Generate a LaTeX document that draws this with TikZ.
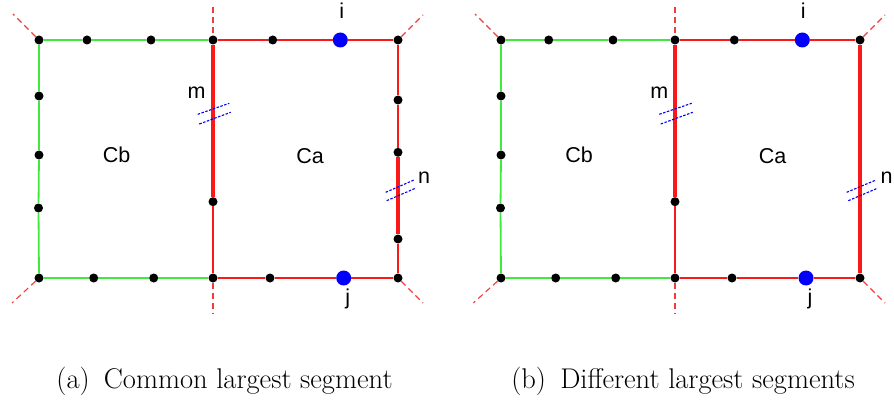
\documentclass[tikz,border=0pt]{standalone}
\usepackage{fontspec}
\usepackage{tikz}
\newfontfamily\lblfont{Liberation Sans}
\definecolor{edgegreen}{RGB}{64,232,64}
\definecolor{edgered}{RGB}{250,24,24}
\definecolor{extred}{RGB}{240,60,60}
\definecolor{vtxblue}{RGB}{0,0,250}
\tikzset{
  vtx/.style={circle, fill=black, inner sep=0pt, minimum size=9pt},
  ivtx/.style={circle, fill=vtxblue, inner sep=0pt, minimum size=15pt},
  gedge/.style={draw=edgegreen, line width=1.8pt},
  redge/.style={draw=edgered, line width=1.5pt},
  rbold/.style={draw=edgered, line width=3.3pt},
  ext/.style={draw=extred, line width=1.1pt, dash pattern=on 6pt off 4pt},
  hsh/.style={draw=vtxblue, line width=1.1pt, dash pattern=on 2.5pt off 1.5pt},
  lbl/.style={font=\lblfont\fontsize{21.5}{21.5}\selectfont, anchor=base, inner sep=0pt},
  subcap/.style={font=\fontsize{28.5}{32}\selectfont, anchor=base, inner sep=0pt},
}

\begin{document}
\begin{tikzpicture}[x=1pt, y=-1pt]
  \useasboundingbox (0,0) rectangle (894,401);

  \coordinate (a-up) at (213,7);
  \coordinate (a-dn) at (213,313);
  \coordinate (a-nw) at (13,14);
  \coordinate (a-ne) at (423,15);
  \coordinate (a-sw) at (12,303);
  \coordinate (a-se) at (423,303);

  \node[vtx] (a-t0) at (39,40) {};
  \node[vtx] (a-t1) at (87,40) {};
  \node[vtx] (a-t2) at (151,40) {};
  \node[vtx] (a-t3) at (213,40) {};
  \node[vtx] (a-t4) at (272.7,40) {};
  \node[ivtx] (a-i) at (340.3,40) {};
  \node[vtx] (a-t5) at (398,40) {};
  \node[vtx] (a-l1) at (39,96) {};
  \node[vtx] (a-l2) at (39,155) {};
  \node[vtx] (a-l3) at (38.5,208) {};
  \node[vtx] (a-b0) at (39,278) {};
  \node[vtx] (a-b1) at (93.7,278) {};
  \node[vtx] (a-b2) at (153.7,278) {};
  \node[vtx] (a-b3) at (213,278) {};
  \node[vtx] (a-b4) at (270,278) {};
  \node[ivtx] (a-j) at (343.7,278) {};
  \node[vtx] (a-b5) at (398,278) {};
  \node[vtx] (a-m1) at (213,201.7) {};
  \node[vtx] (a-r1) at (398,100) {};
  \node[vtx] (a-r2) at (398,152.3) {};
  \node[vtx] (a-r3) at (398,239) {};

  \draw[ext] (a-up) -- (a-t3);
  \draw[ext] (a-b3) -- (a-dn);
  \draw[ext] (a-t0) -- (a-nw);
  \draw[ext] (a-t5) -- (a-ne);
  \draw[ext] (a-b0) -- (a-sw);
  \draw[ext] (a-b5) -- (a-se);

  \draw[gedge] (a-t0) -- (a-t1) -- (a-t2) -- (a-t3);
  \draw[gedge] (a-t0) -- (a-l1) -- (a-l2) -- (a-l3) -- (a-b0);
  \draw[gedge] (a-b0) -- (a-b1) -- (a-b2) -- (a-b3);
  \draw[redge] (a-t3) -- (a-t4) -- (a-i) -- (a-t5);
  \draw[redge] (a-b3) -- (a-b4) -- (a-j) -- (a-b5);
  \draw[redge] (a-t5) -- (a-r1) -- (a-r2);
  \draw[redge] (a-r3) -- (a-b5);
  \draw[redge] (a-m1) -- (a-b3);
  \draw[rbold] (a-t3) -- (a-m1);
  \draw[rbold] (a-r2) -- (a-r3);

  \draw[hsh] (197.7,114.3) -- (229.3,103.3);
  \draw[hsh] (199.3,124) -- (230.7,112.3);
  \draw[hsh] (385.7,192.3) -- (414,180);
  \draw[hsh] (386.7,200.7) -- (415.3,188.3);

  \node[lbl] (a-li) at (341.7,18.3) {i};
  \node[lbl] (a-lj) at (347.7,304) {j};
  \node[lbl] (a-lm) at (196.7,98.3) {m};
  \node[lbl] (a-ln) at (424,183.3) {n};
  \node[lbl] (a-cb) at (116.7,162.3) {Cb};
  \node[lbl] (a-ca) at (310,163.3) {Ca};

  \coordinate (b-up) at (675,7);
  \coordinate (b-dn) at (675,313);
  \coordinate (b-nw) at (475,14);
  \coordinate (b-ne) at (885,15);
  \coordinate (b-sw) at (473.3,303);
  \coordinate (b-se) at (885,303);

  \node[vtx] (b-t0) at (501,40) {};
  \node[vtx] (b-t1) at (548.7,40) {};
  \node[vtx] (b-t2) at (613,40) {};
  \node[vtx] (b-t3) at (675,40) {};
  \node[vtx] (b-t4) at (734.3,40) {};
  \node[ivtx] (b-i) at (802.3,40) {};
  \node[vtx] (b-t5) at (860,40) {};
  \node[vtx] (b-l1) at (501,96) {};
  \node[vtx] (b-l2) at (501,155) {};
  \node[vtx] (b-l3) at (500.5,208) {};
  \node[vtx] (b-b0) at (501,278) {};
  \node[vtx] (b-b1) at (555.7,278) {};
  \node[vtx] (b-b2) at (615.7,278) {};
  \node[vtx] (b-b3) at (675,278) {};
  \node[vtx] (b-b4) at (732,278) {};
  \node[ivtx] (b-j) at (806,278) {};
  \node[vtx] (b-b5) at (860,278) {};
  \node[vtx] (b-m1) at (675,201.7) {};

  \draw[ext] (b-up) -- (b-t3);
  \draw[ext] (b-b3) -- (b-dn);
  \draw[ext] (b-t0) -- (b-nw);
  \draw[ext] (b-t5) -- (b-ne);
  \draw[ext] (b-b0) -- (b-sw);
  \draw[ext] (b-b5) -- (b-se);

  \draw[gedge] (b-t0) -- (b-t1) -- (b-t2) -- (b-t3);
  \draw[gedge] (b-t0) -- (b-l1) -- (b-l2) -- (b-l3) -- (b-b0);
  \draw[gedge] (b-b0) -- (b-b1) -- (b-b2) -- (b-b3);
  \draw[redge] (b-t3) -- (b-t4) -- (b-i) -- (b-t5);
  \draw[redge] (b-b3) -- (b-b4) -- (b-j) -- (b-b5);
  \draw[redge] (b-m1) -- (b-b3);
  \draw[rbold] (b-t3) -- (b-m1);
  \draw[rbold] (b-t5) -- (b-b5);

  \draw[hsh] (659.3,114.3) -- (691.7,103.3);
  \draw[hsh] (660.7,124) -- (692.7,112.3);
  \draw[hsh] (846.7,192.3) -- (876,180);
  \draw[hsh] (848.3,200.7) -- (877.3,188.3);

  \node[lbl] (b-li) at (803.3,18.3) {i};
  \node[lbl] (b-lj) at (810,304) {j};
  \node[lbl] (b-lm) at (659.3,98.3) {m};
  \node[lbl] (b-ln) at (886.7,183.3) {n};
  \node[lbl] (b-cb) at (579,162.3) {Cb};
  \node[lbl] (b-ca) at (772.7,163.3) {Ca};

  \node[subcap] (capa) at (224.5,388) {(a)\enspace Common largest segment};
  \node[subcap] (capb) at (683,388) {(b)\enspace Different largest segments};
\end{tikzpicture}
\end{document}
